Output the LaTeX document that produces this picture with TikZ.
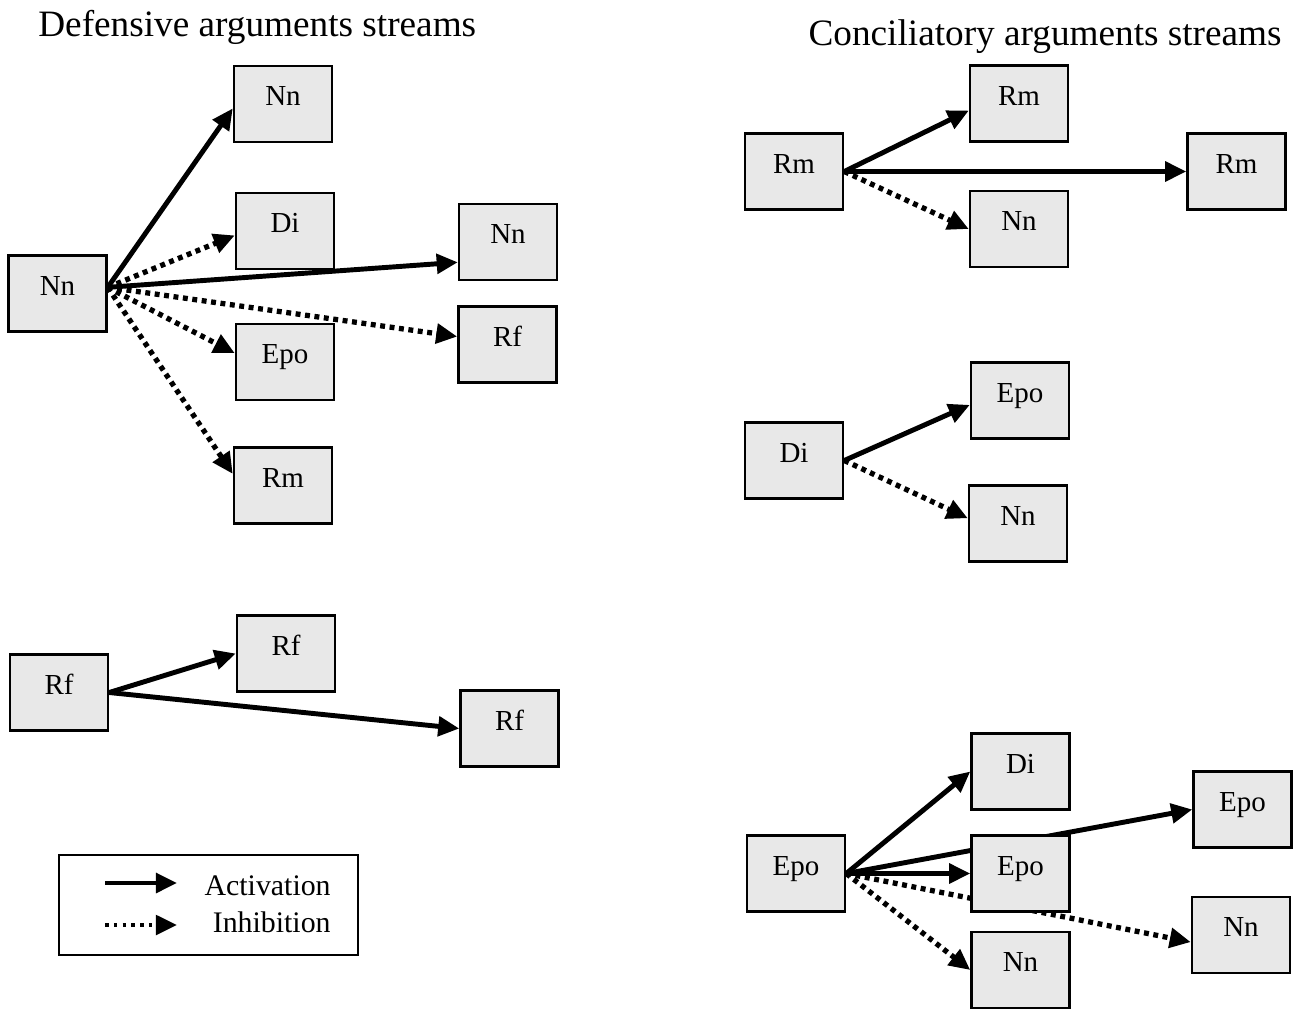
\documentclass[tikz,border=0pt]{standalone}
\usepackage{fontspec}
\setmainfont{Liberation Serif}
\usetikzlibrary{arrows.meta}
\usetikzlibrary{backgrounds}

\tikzset{
    arg/.style={draw, line width=1.4pt, fill=black!9, inner sep=0pt,
        minimum width=1.96cm, minimum height=1.52cm,
        text height=11pt, text depth=8.8pt, font=\fontsize{16.5}{19}\selectfont},
    act/.style={->, line width=2.8pt},
    inh/.style={->, line width=3pt, dash pattern=on 2.8pt off 2.6pt},
    ttl/.style={font=\fontsize{21.2}{25}\selectfont, inner sep=0pt},
    leg/.style={font=\fontsize{17}{20}\selectfont, inner sep=0pt}
}

\begin{document}
\begin{tikzpicture}[x=0.02cm, y=-0.02cm, >={Triangle[length=12pt, width=11pt]}]
        \useasboundingbox (0, 0) rectangle (1295, 1008);

        \node[ttl, anchor=base west] (t0) at (38, 36) {Defensive arguments streams};
        \node[ttl, anchor=base east] (t1) at (1282, 45) {Conciliatory arguments streams};

        \node[arg] (a0) at (57.5, 293.5) {Nn};
        \node[arg] (a1) at (283, 104) {Nn};
        \node[arg] (a2) at (285, 231) {Di};
        \node[arg] (a3) at (508, 242) {Nn};
        \node[arg] (a4) at (285, 362) {Epo};
        \node[arg] (a5) at (507.5, 344.5) {Rf};
        \node[arg] (a6) at (283, 485.5) {Rm};

        \node[arg] (b0) at (59, 692.5) {Rf};
        \node[arg] (b1) at (286, 653.5) {Rf};
        \node[arg] (b2) at (509.5, 728.5) {Rf};

        \node[arg] (c0) at (794, 171.5) {Rm};
        \node[arg] (c1) at (1019, 103.5) {Rm};
        \node[arg] (c2) at (1236.5, 171.5) {Rm};
        \node[arg] (c3) at (1019, 229) {Nn};

        \node[arg] (d0) at (794, 460.5) {Di};
        \node[arg] (d1) at (1020, 400.5) {Epo};
        \node[arg] (d2) at (1018, 523.5) {Nn};

        \node[arg] (e0) at (796, 873.5) {Epo};
        \node[arg] (e1) at (1020.5, 771.5) {Di};
        \node[arg] (e2) at (1020.5, 873.5) {Epo};
        \node[arg] (e3) at (1242.5, 809.5) {Epo};
        \node[arg] (e4) at (1241, 935) {Nn};
        \node[arg] (e5) at (1020.5, 970) {Nn};

        \node[draw, line width=1.4pt, minimum width=5.98cm, minimum height=2cm] (k) at (208.5, 905) {};
        \coordinate (k0) at (105, 883);
        \coordinate (k1) at (177, 883);
        \coordinate (k2) at (105, 925);
        \coordinate (k3) at (177, 925);
        \node[leg, anchor=base east] (k4) at (331, 895) {Activation};
        \node[leg, anchor=base east] (k5) at (331, 932) {Inhibition};
        \draw[act] (k0) -- (k1);
        \draw[inh, line width=2.4pt, dash pattern=on 2pt off 3pt] (k2) -- (k3);

        \begin{pgfonlayer}{background}
        \draw[act] (a0.7) -- (a1.185);
        \draw[inh] (a0.7) -- (a2.185);
        \draw[act] (a0.7) -- (a3.202);
        \draw[inh] (a0.7) -- (a5.171);
        \draw[inh] (a0.7) -- (a4.170);
        \draw[inh] (a0.7) -- (a6.167);

        \draw[act] (b0.east) -- (b1.west);
        \draw[act] (b0.east) -- (b2.west);

        \draw[act] (c0.east) -- (c1.188);
        \draw[act] (c0.east) -- (c2.west);
        \draw[inh] (c0.east) -- (c3.west);

        \draw[act] (d0.east) -- (d1.185);
        \draw[inh] (d0.east) -- (d2.174);

        \draw[act] (e0.east) -- (e1.west);
        \draw[act] (e0.east) -- (e2.west);
        \draw[act] (e0.east) -- (e3.west);
        \draw[inh] (e0.east) -- (e4.188);
        \draw[inh] (e0.east) -- (e5.west);
        \end{pgfonlayer}
    \end{tikzpicture}
\end{document}
